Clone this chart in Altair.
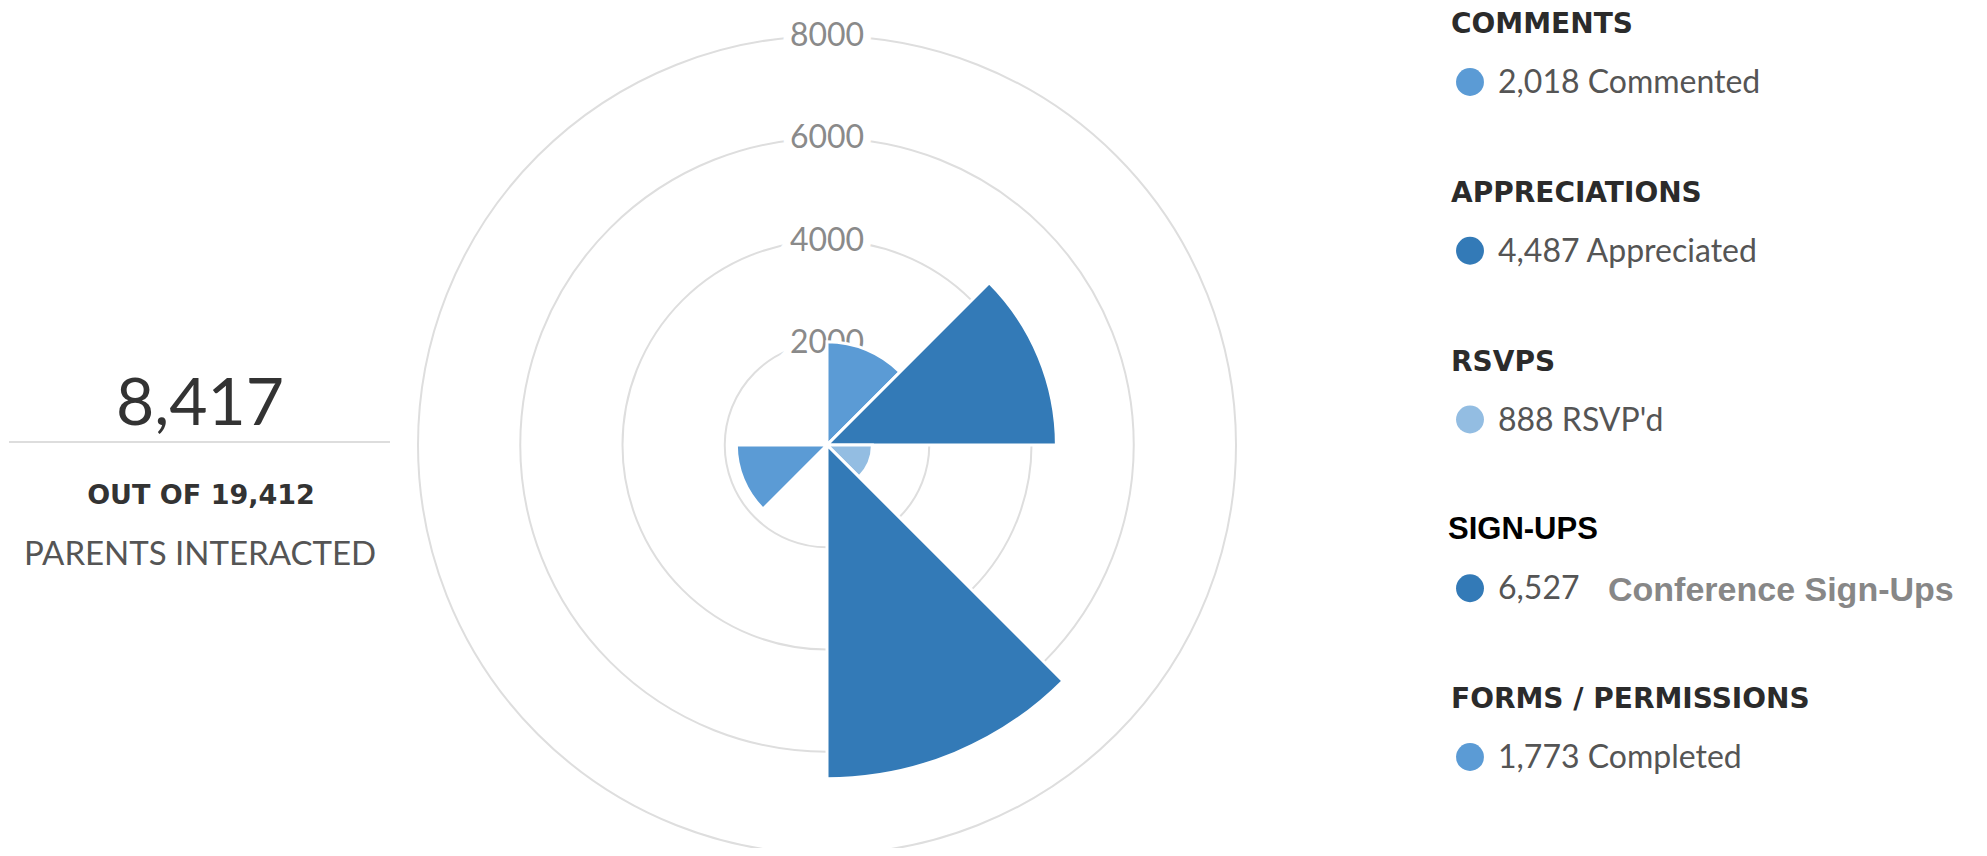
import math
import altair as alt
import pandas as pd

# ---------------- data ----------------
categories = ["Comments", "Appreciations", "RSVPs", "Sign-Ups", "Forms / Permissions"]
headings = ["COMMENTS", "APPRECIATIONS", "RSVPS", "SIGN-UPS", "FORMS / PERMISSIONS"]
values = [2018, 4487, 888, 6527, 1773]
descriptions = ["Commented", "Appreciated", "RSVP'd", "", "Completed"]
angle_slot = [0, 1, 2, 3, 5]          # position of each category among the 8 polar slots
n_slots = 8
ring_values = [2000, 4000, 6000, 8000]
ring_labels = ["2000", "4000", "6000", "8000"]
total_interacted = ["8,417"]
out_of = ["OUT OF 19,412"]
parents_line = ["PARENTS INTERACTED"]
signup_note = ["Conference Sign-Ups"]

# ---------------- style ----------------
palette = ["#5b9bd5", "#337ab7", "#93bde2", "#337ab7", "#5b9bd5"]
CX, CY = 819, 437
W, H = 1971, 840
HEAD_FONT = "DejaVu Sans"

df = pd.DataFrame({
    "category": categories,
    "heading": headings,
    "value": values,
    "desc": descriptions,
    "slot": angle_slot,
})
df["row"] = [f"{v:,} {d}".strip() for v, d in zip(values, descriptions)]
rings_df = pd.DataFrame({"ring": ring_values, "label": ring_labels})

r_scale = alt.Scale(type="linear", domain=[0, 8000], range=[0, 409], zero=True)
t_scale = alt.Scale(type="linear", domain=[0, n_slots], range=[0, 2 * math.pi])
c_scale = alt.Scale(domain=categories, range=palette)
y_legend = alt.Scale(type="point", domain=categories, range=[25, 700], padding=0)

center = dict(x=alt.value(CX), y=alt.value(CY))

rings = alt.Chart(rings_df).mark_arc(fillOpacity=0, stroke="#dedede", strokeWidth=2).encode(
    theta=alt.value(0),
    theta2=alt.value(2 * math.pi),
    radius=alt.Radius("ring:Q", scale=r_scale, stack=False),
    **center,
)

ring_halo = alt.Chart(rings_df).mark_text(
    font="Lato", fontSize=32, color="white", stroke="white", strokeWidth=16,
    align="center", baseline="middle",
).encode(
    theta=alt.value(0),
    radius=alt.Radius("ring:Q", scale=r_scale, stack=False),
    text="label:N",
    **center,
)

ring_text = alt.Chart(rings_df).mark_text(
    font="Lato", fontSize=32, color="#8a8a8a", align="center", baseline="middle",
).encode(
    theta=alt.value(0),
    radius=alt.Radius("ring:Q", scale=r_scale, stack=False),
    text="label:N",
    **center,
)

wedges = alt.Chart(df).transform_calculate(slot_end="datum.slot + 1").mark_arc(
    stroke="white", strokeWidth=3
).encode(
    theta=alt.Theta("slot:Q", scale=t_scale, stack=False),
    theta2="slot_end:Q",
    radius=alt.Radius("value:Q", scale=r_scale, stack=False),
    color=alt.Color("category:N", scale=c_scale, legend=None),
    **center,
)

# ---------------- left summary ----------------
big = alt.Chart(pd.DataFrame({"t": total_interacted})).mark_text(
    font="Lato", fontWeight=400, fontSize=66, color="#333333", align="center", baseline="alphabetic"
).encode(text="t:N", x=alt.value(192), y=alt.value(417))

sep = alt.Chart(pd.DataFrame({"t": total_interacted})).mark_rule(color="#dddddd", strokeWidth=2).encode(
    x=alt.value(1), x2=alt.value(382), y=alt.value(434)
)

outof = alt.Chart(pd.DataFrame({"t": out_of})).mark_text(
    font=HEAD_FONT, fontWeight="bold", fontSize=27, color="#333333", align="center", baseline="alphabetic"
).encode(text="t:N", x=alt.value(193), y=alt.value(496))

parents = alt.Chart(pd.DataFrame({"t": parents_line})).mark_text(
    font="Lato", fontSize=33, color="#555555", align="center", baseline="alphabetic"
).encode(text="t:N", x=alt.value(192), y=alt.value(557))

# ---------------- right legend ----------------
base_leg = alt.Chart(df)
leg_y = alt.Y("category:N", scale=y_legend, axis=None)

head_main = base_leg.transform_filter("datum.category != 'Sign-Ups'").mark_text(
    font=HEAD_FONT, fontWeight="bold", fontSize=28, color="#2b2b2b", align="left", baseline="alphabetic"
).encode(text="heading:N", x=alt.value(1443), y=leg_y)

head_signup = base_leg.transform_filter("datum.category == 'Sign-Ups'").mark_text(
    font="Liberation Sans", fontWeight="bold", fontSize=31, color="#000000", align="left", baseline="alphabetic"
).encode(text="heading:N", x=alt.value(1440), y=leg_y)

dots = base_leg.mark_circle(size=780, opacity=1, yOffset=49).encode(
    x=alt.value(1462), y=leg_y, color=alt.Color("category:N", scale=c_scale, legend=None)
)

rows = base_leg.mark_text(
    font="Lato", fontSize=32, color="#555555", align="left", baseline="alphabetic", dy=60
).encode(text="row:N", x=alt.value(1490), y=leg_y)

note = base_leg.transform_filter("datum.category == 'Sign-Ups'").transform_calculate(
    note=f"'{signup_note[0]}'"
).mark_text(
    font="Liberation Sans", fontWeight="bold", fontSize=34, color="#878787", align="left",
    baseline="alphabetic", dy=62
).encode(text="note:N", x=alt.value(1600), y=leg_y)

chart = alt.layer(
    rings, ring_halo, ring_text, wedges,
    big, sep, outof, parents,
    head_main, head_signup, dots, rows, note,
).properties(
    width=W, height=H, autosize=alt.AutoSizeParams(type="none"), padding=0, background="white"
).configure_view(strokeWidth=0, stroke="transparent")

chart.save("out.html", embed_options={"renderer": "svg", "actions": False})
